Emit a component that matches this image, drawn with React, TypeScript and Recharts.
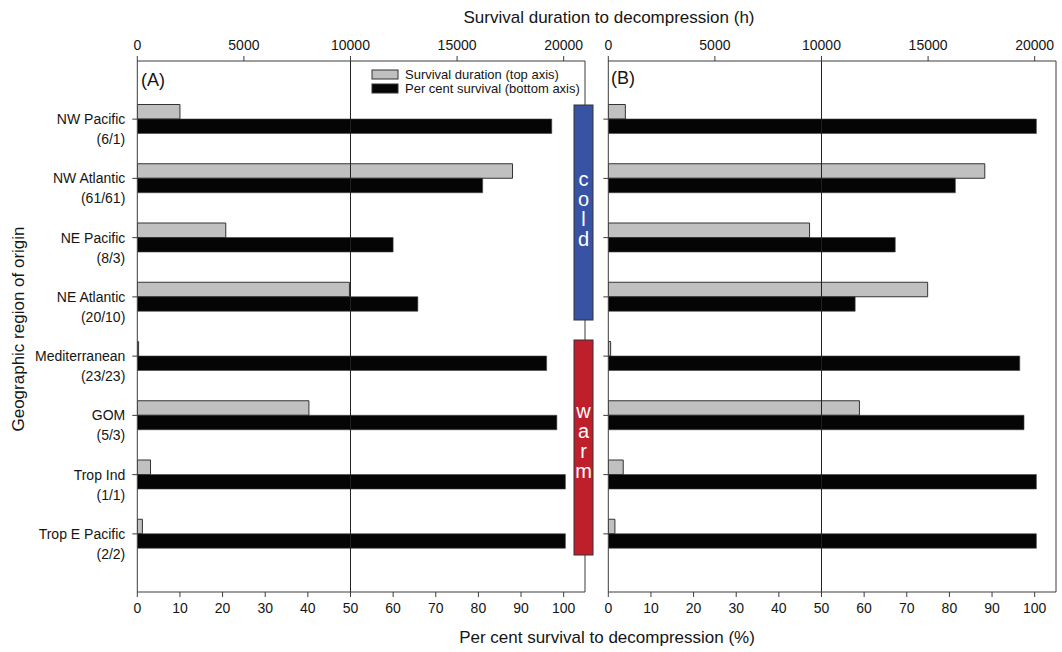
import React from 'react'
import { BarChart, Bar, XAxis, YAxis, ReferenceLine } from 'recharts'

/* regions of origin, with sample counts shown under each name */
const regions = ['NW Pacific', 'NW Atlantic', 'NE Pacific', 'NE Atlantic', 'Mediterranean', 'GOM', 'Trop Ind', 'Trop E Pacific']
const counts = ['(6/1)', '(61/61)', '(8/3)', '(20/10)', '(23/23)', '(5/3)', '(1/1)', '(2/2)']

/* panel A */
const hoursA = [2000, 17600, 4150, 9950, 60, 8050, 620, 240]
const pctA = [97.2, 81.0, 60.0, 65.8, 96.0, 98.4, 100.4, 100.4]

/* panel B */
const hoursB = [800, 17660, 9440, 14980, 110, 11780, 700, 310]
const pctB = [100.4, 81.4, 67.3, 57.9, 96.5, 97.5, 100.4, 100.4]

const hourTicks = [0, 5000, 10000, 15000, 20000]
const pctTicks = [0, 10, 20, 30, 40, 50, 60, 70, 80, 90, 100]

const FONT = '"Liberation Sans", Arial, Helvetica, sans-serif'
const AXIS = '#3c3c3c'
const INK = '#151515'

function RegionTick(props: any) {
  const { x, y, payload } = props
  const i = regions.indexOf(payload.value)
  return (
    <g>
      <text x={x - 5} y={y} dy="0.35em" textAnchor="end" fontSize={14} fill={INK}>{payload.value}</text>
      <text x={x - 5} y={y + 20} dy="0.35em" textAnchor="end" fontSize={14} fill={INK}>{counts[i]}</text>
    </g>
  )
}

function Panel({ hours, pct, labels, yWidth, right }: { hours: number[]; pct: number[]; labels: boolean; yWidth: number; right: number }) {
  const data = regions.map((name, i) => ({ name, hours: hours[i], pct: pct[i] }))
  const tickStyle = { fontSize: 14, fill: INK }
  return (
    <BarChart
      width={600}
      height={652}
      data={data}
      layout="vertical"
      margin={{ top: 0, right, bottom: 0, left: 0 }}
      barGap={0}
      barSize={14.5}
    >
      <XAxis xAxisId="top" orientation="top" type="number" domain={[0, 21000]} ticks={hourTicks} height={61}
        tickSize={5} tickMargin={6} stroke={AXIS} tick={tickStyle} allowDataOverflow />
      <XAxis xAxisId="bottom" orientation="bottom" type="number" domain={[0, 105]} ticks={pctTicks} height={60}
        tickSize={5} tickMargin={6} stroke={AXIS} tick={tickStyle} allowDataOverflow />
      <YAxis type="category" dataKey="name" width={yWidth} padding={{ top: 28.5, bottom: 28.5 }} interval={0}
        tickSize={5} stroke={AXIS} tick={labels ? <RegionTick /> : () => <g />} />
      <ReferenceLine xAxisId="bottom" x={50} stroke="#222" strokeWidth={1} />
      <ReferenceLine xAxisId="bottom" x={105} stroke={AXIS} strokeWidth={1} />
      <Bar xAxisId="top" dataKey="hours" fill="#c0c0c0" stroke="#333" strokeWidth={1} isAnimationActive={false} />
      <Bar xAxisId="bottom" dataKey="pct" fill="#050505" stroke="#444" strokeWidth={0.6} isAnimationActive={false} />
    </BarChart>
  )
}

export default function App() {
  return (
    <div style={{ position: 'absolute', left: 0, top: 0, width: 1062, height: 652, background: '#fff', fontFamily: FONT, overflow: 'hidden' }}>
      <div style={{ position: 'absolute', left: 0, top: 0 }}>
        <Panel hours={hoursA} pct={pctA} labels yWidth={137.3} right={15} />
      </div>
      <div style={{ position: 'absolute', left: 462, top: 0 }}>
        <Panel hours={hoursB} pct={pctB} labels={false} yWidth={146.3} right={6} />
      </div>

      {/* titles, panel letters, legend and the cold / warm markers */}
      <svg width={1062} height={652} style={{ position: 'absolute', left: 0, top: 0, pointerEvents: 'none' }} fontFamily={FONT}>
        <text x={609} y={17} dy="0.35em" textAnchor="middle" fontSize={17} fill={INK}>Survival duration to decompression (h)</text>
        <text x={607} y={637} dy="0.35em" textAnchor="middle" fontSize={17} fill={INK}>Per cent survival to decompression (%)</text>
        <text transform="translate(18,329) rotate(-90)" dy="0.35em" textAnchor="middle" fontSize={17} fill={INK}>Geographic region of origin</text>

        <text x={141} y={86} fontSize={18} fill={INK}>(A)</text>
        <text x={611} y={84} fontSize={18} fill={INK}>(B)</text>

        <rect x={372} y={70} width={26} height={9} fill="#c0c0c0" stroke="#333" strokeWidth={1} />
        <text x={405} y={74.5} dy="0.35em" fontSize={13} fill={INK}>Survival duration (top axis)</text>
        <rect x={372} y={84} width={26} height={9} fill="#050505" stroke="#333" strokeWidth={1} />
        <text x={405} y={88.5} dy="0.35em" fontSize={13} fill={INK}>Per cent survival (bottom axis)</text>

        <rect x={574} y={105} width={19} height={215} fill="#3953a4" stroke="#333" strokeWidth={1} />
        {['c', 'o', 'l', 'd'].map((c, i) => (
          <text key={c} x={583.5} y={186 + i * 20} textAnchor="middle" fontSize={20} fill="#fff">{c}</text>
        ))}
        <rect x={574} y={340} width={19} height={215} fill="#bf1f2a" stroke="#333" strokeWidth={1} />
        {['w', 'a', 'r', 'm'].map((c, i) => (
          <text key={c} x={583.5} y={418 + i * 20} textAnchor="middle" fontSize={20} fill="#fff">{c}</text>
        ))}
      </svg>
    </div>
  )
}
